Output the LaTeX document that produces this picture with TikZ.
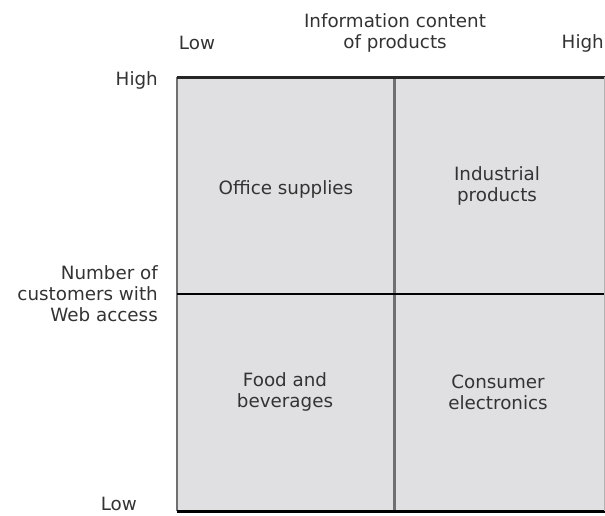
\documentclass[tikz,border=0pt]{standalone}
\usepackage{fontspec}
\setmainfont{DejaVu Sans}
\definecolor{cellfill}{HTML}{E0E0E2}
\definecolor{txt}{HTML}{333333}
\definecolor{edgegray}{HTML}{707070}
\begin{document}
\begin{tikzpicture}[x=1pt,y=-1pt,
  lbl/.style={inner sep=0pt,text=txt,font=\fontsize{18.3}{21}\selectfont,align=center},
  rlbl/.style={lbl,align=right}]
\useasboundingbox (0,0) rectangle (605,515);
% cells
\fill[cellfill] (177,77) rectangle (606,511);
\coordinate (tl) at (177,77);
\coordinate (tr) at (606,77);
\coordinate (bl) at (177,511);
\coordinate (br) at (606,511);
\coordinate (vt) at (394.5,77);
\coordinate (vb) at (394.5,511);
\coordinate (hl) at (177,294);
\coordinate (hr) at (606,294);
\draw[edgegray,line width=3pt] (vt) -- (vb);
\draw[edgegray,line width=2.5pt] (tl) -- (bl);
\draw[black,line width=1.6pt] (hl) -- (hr);
\draw[black!85,line width=3pt] (tl) -- (tr);
\draw[black,line width=3pt] (bl) -- (br);
\draw[gray!60,line width=1pt] (604.5,77) -- (604.5,511);
% labels
\node[lbl] (xlow) at (197,43) {Low};
\node[lbl] (xtitle) at (395,33) {Information content\\of products};
\node[lbl,anchor=east] (xhigh) at (604,43) {High};
\node[rlbl,anchor=east] (yhigh) at (158,80) {High};
\node[rlbl,anchor=east] (ytitle) at (158,294) {Number of\\customers with\\Web access};
\node[rlbl,anchor=east] (ylow) at (137,504) {Low};
\node[lbl] (office) at (286,189) {Office supplies};
\node[lbl] (industrial) at (497,186) {Industrial\\products};
\node[lbl] (food) at (285,392) {Food and\\beverages};
\node[lbl] (consumer) at (498,392) {Consumer\\electronics};
\end{tikzpicture}
\end{document}
